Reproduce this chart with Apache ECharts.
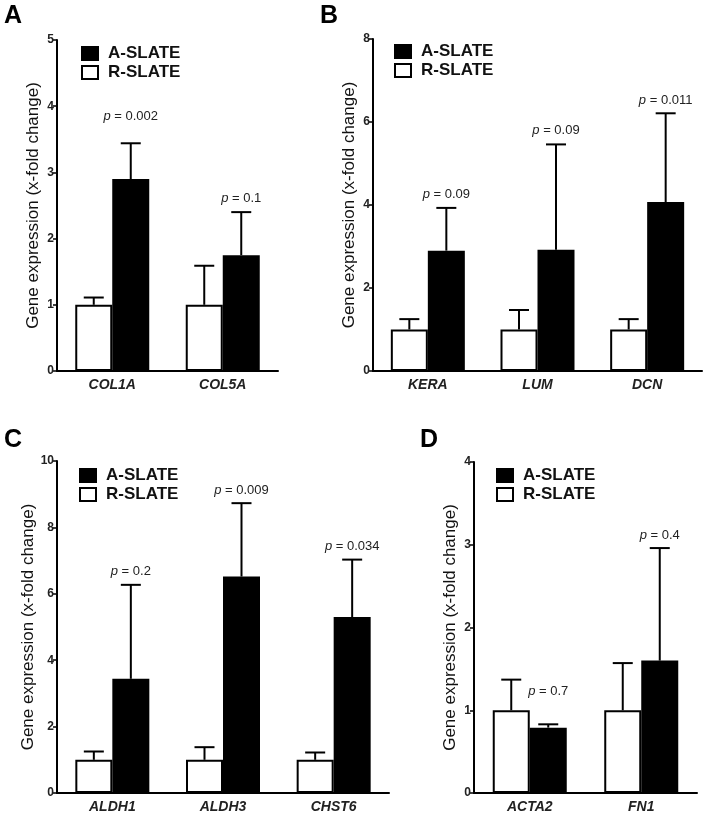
<!DOCTYPE html>
<html>
<head>
<meta charset="utf-8">
<script src="https://cdn.jsdelivr.net/npm/echarts@6/dist/echarts.min.js"></script>
<style>html,body{margin:0;padding:0;background:#fff}#c{width:707px;height:815px}</style>
</head>
<body>
<div id="c"></div>
<script>
// ---- data ----
const seriesNames = ['A-SLATE', 'R-SLATE'];
const yAxisTitle = 'Gene expression (x-fold change)';
const panelLetters = ['A', 'B', 'C', 'D'];

const catsA = ['COL1A', 'COL5A'];
const rA = [1, 1];
const rErrA = [0.11, 0.59];
const aA = [2.9, 1.75];
const aErrA = [0.54, 0.65];
const pA = ['0.002', '0.1'];
const pYA = [3.84, 2.61];
const yMaxA = 5, yStepA = 1;

const catsB = ['KERA', 'LUM', 'DCN'];
const rB = [1, 1, 1];
const rErrB = [0.25, 0.47, 0.25];
const aB = [2.9, 2.92, 4.07];
const aErrB = [1.03, 2.54, 2.14];
const pB = ['0.09', '0.09', '0.011'];
const pYB = [4.26, 5.79, 6.53];
const yMaxB = 8, yStepB = 2;

const catsC = ['ALDH1', 'ALDH3', 'CHST6'];
const rC = [1, 1, 1];
const rErrC = [0.25, 0.38, 0.22];
const aC = [3.44, 6.52, 5.30];
const aErrC = [2.83, 2.21, 1.73];
const pC = ['0.2', '0.009', '0.034'];
const pYC = [6.67, 9.1, 7.43];
const yMaxC = 10, yStepC = 2;

const catsD = ['ACTA2', 'FN1'];
const rD = [1, 1];
const rErrD = [0.37, 0.57];
const aD = [0.79, 1.60];
const aErrD = [0.04, 1.36];
const pD = ['0.7', '0.4'];
const pYD = [1.23, 3.11];
const yMaxD = 4, yStepD = 1;

// ---- layout / style ----
const FONT = 'Arial, "Liberation Sans", Helvetica, sans-serif';
const BAR_W = 37;
const panels = [
  {cats: catsA, r: rA, rErr: rErrA, a: aA, aErr: aErrA, p: pA, pY: pYA, max: yMaxA, step: yStepA,
   grid: {left: 57, top: 40, width: 221, height: 331}, legend: {left: 76, top: 40}, letter: [4, 28]},
  {cats: catsB, r: rB, rErr: rErrB, a: aB, aErr: aErrB, p: pB, pY: pYB, max: yMaxB, step: yStepB,
   grid: {left: 373, top: 39, width: 329, height: 332}, legend: {left: 389, top: 38}, letter: [320, 28]},
  {cats: catsC, r: rC, rErr: rErrC, a: aC, aErr: aErrC, p: pC, pY: pYC, max: yMaxC, step: yStepC,
   grid: {left: 57, top: 461, width: 332, height: 332}, legend: {left: 74, top: 462}, letter: [4, 452]},
  {cats: catsD, r: rD, rErr: rErrD, a: aD, aErr: aErrD, p: pD, pY: pYD, max: yMaxD, step: yStepD,
   grid: {left: 474, top: 462, width: 223, height: 331}, legend: {left: 491, top: 462}, letter: [420, 452]}
];

function errRender(offset) {
  return function (params, api) {
    const base = api.coord([api.value(0), api.value(1)]);
    const top = api.coord([api.value(0), api.value(1) + api.value(2)]);
    const x = base[0] + offset;
    const capHalf = 10;
    return {
      type: 'group',
      children: [
        {type: 'line', shape: {x1: x, y1: base[1], x2: x, y2: top[1]}, style: {stroke: '#000', lineWidth: 2}},
        {type: 'line', shape: {x1: x - capHalf, y1: top[1], x2: x + capHalf, y2: top[1]}, style: {stroke: '#000', lineWidth: 2}}
      ]
    };
  };
}

function pRender(params, api) {
  const pt = api.coord([api.value(0), api.value(1)]);
  return {
    type: 'text',
    x: pt[0] + BAR_W / 2,
    y: pt[1],
    style: {
      text: '{i|p} = ' + api.value(2),
      rich: {i: {fontStyle: 'italic', fontSize: 13, fontFamily: FONT, fill: '#222'}},
      fontSize: 13, fontFamily: FONT, fill: '#222',
      align: 'center', verticalAlign: 'middle'
    }
  };
}

const grids = [], xAxes = [], yAxes = [], series = [], legends = [], graphics = [];
panels.forEach((pn, i) => {
  grids.push(Object.assign({containLabel: false}, pn.grid));
  xAxes.push({
    type: 'category', gridIndex: i, data: pn.cats,
    axisLine: {lineStyle: {color: '#000', width: 2}},
    axisTick: {show: false},
    axisLabel: {fontFamily: FONT, fontSize: 14, fontWeight: 'bold', fontStyle: 'italic', color: '#222', margin: 7}
  });
  yAxes.push({
    type: 'value', gridIndex: i, min: 0, max: pn.max, interval: pn.step,
    name: yAxisTitle, nameLocation: 'middle', nameGap: 15,
    nameTextStyle: {fontFamily: FONT, fontSize: 17, color: '#111'},
    axisLine: {show: true, lineStyle: {color: '#000', width: 2}},
    axisTick: {show: true, length: 4, lineStyle: {color: '#000', width: 1.5}},
    splitLine: {show: false},
    axisLabel: {fontFamily: FONT, fontSize: 12, fontWeight: 'bold', color: '#222', margin: 3}
  });
  series.push({
    name: 'R-SLATE', type: 'bar', xAxisIndex: i, yAxisIndex: i, data: pn.r,
    barWidth: BAR_W, barGap: '0%',
    itemStyle: {color: '#fff', borderColor: '#000', borderWidth: 2}
  });
  series.push({
    name: 'A-SLATE', type: 'bar', xAxisIndex: i, yAxisIndex: i, data: pn.a,
    barWidth: BAR_W, barGap: '0%',
    itemStyle: {color: '#000', borderColor: '#000', borderWidth: 2}
  });
  series.push({
    type: 'custom', xAxisIndex: i, yAxisIndex: i, z: 5,
    renderItem: errRender(-BAR_W / 2), encode: {x: 0, y: 1},
    data: pn.cats.map((c, k) => [k, pn.r[k], pn.rErr[k]])
  });
  series.push({
    type: 'custom', xAxisIndex: i, yAxisIndex: i, z: 5,
    renderItem: errRender(BAR_W / 2), encode: {x: 0, y: 1},
    data: pn.cats.map((c, k) => [k, pn.a[k], pn.aErr[k]])
  });
  series.push({
    type: 'custom', xAxisIndex: i, yAxisIndex: i, z: 5,
    renderItem: pRender, encode: {x: 0, y: 1},
    data: pn.cats.map((c, k) => [k, pn.pY[k], pn.p[k]])
  });
  legends.push({
    data: seriesNames, orient: 'vertical', left: pn.legend.left, top: pn.legend.top,
    itemWidth: 16, itemHeight: 13, itemGap: 2, icon: 'rect',
    textStyle: {fontFamily: FONT, fontSize: 17, fontWeight: 'bold', color: '#111', padding: [0, 0, 0, 5]},
    selectedMode: false
  });
  graphics.push({
    type: 'text', left: pn.letter[0], top: pn.letter[1] - 24,
    style: {text: panelLetters[i], fontFamily: FONT, fontSize: 25, fontWeight: 'bold', fill: '#000'}
  });
});

const chart = echarts.init(document.getElementById('c'), null, {renderer: 'canvas'});
chart.setOption({
  animation: false,
  backgroundColor: '#fff',
  grid: grids, xAxis: xAxes, yAxis: yAxes, series: series, legend: legends, graphic: graphics
});
</script>
</body>
</html>
